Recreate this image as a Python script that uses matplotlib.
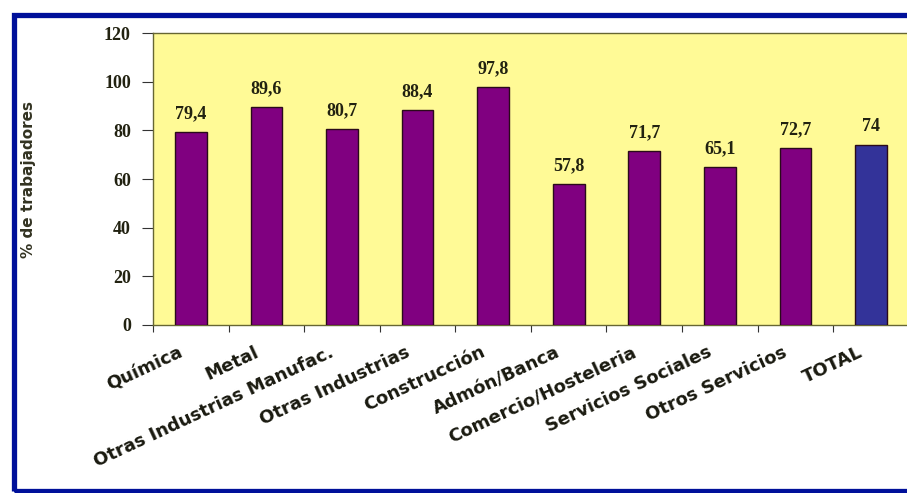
import matplotlib
matplotlib.use("Agg")
import matplotlib.pyplot as plt
from matplotlib.patches import Rectangle

categories = ["Química", "Metal", "Otras Industrias Manufac.", "Otras Industrias",
              "Construcción", "Admón/Banca", "Comercio/Hosteleria",
              "Servicios Sociales", "Otros Servicios", "TOTAL"]
values = [79.4, 89.6, 80.7, 88.4, 97.8, 57.8, 71.7, 65.1, 72.7, 74]
labels = ["79,4", "89,6", "80,7", "88,4", "97,8", "57,8", "71,7", "65,1", "72,7", "74"]
yticks = [0, 20, 40, 60, 80, 100, 120]

colors = ["#800080"] * (len(categories) - 1) + ["#333399"]

fig = plt.figure(figsize=(9.07, 4.93), dpi=100)
fig.patch.set_facecolor("white")
ax = fig.add_axes([0.1687, 0.3408, 0.8333, 0.5922])
ax.set_facecolor("#FFFA96")

x = list(range(len(categories)))
ax.bar(x, values, width=0.42, color=colors, edgecolor="#2a0a1a", linewidth=1.0, zorder=3)
for xi, v, lab in zip(x, values, labels):
    ax.text(xi, v + 4.0, lab, ha="center", va="bottom", fontsize=13,
            fontweight="bold", family="Liberation Serif", color="#222211")

ax.set_xlim(-0.5, len(categories) - 0.5)
ax.set_ylim(0, 120)
ax.set_yticks(yticks)
ax.set_yticklabels([str(t) for t in yticks], fontsize=13, fontweight="bold",
                   family="Liberation Serif", color="#222211")
ax.set_xticks([i + 0.5 for i in range(-1, len(categories))])
ax.set_xticklabels([])
ax.tick_params(axis="x", length=5, direction="out", color="#333333")
ax.tick_params(axis="y", length=8, direction="out", color="#333333", pad=8)
for s in ["top", "right", "left", "bottom"]:
    ax.spines[s].set_color("#666633")
    ax.spines[s].set_linewidth(1.0)

for xi, cat in zip(x, categories):
    ax.text(xi - 0.17, -7.5, cat, rotation=25, ha="right", va="top",
            rotation_mode="anchor", fontsize=13, fontweight="bold",
            family="DejaVu Sans", color="#1a1a10")

ax.set_ylabel("% de trabajadores", fontsize=11, fontweight="bold",
              family="DejaVu Sans", color="#333322")
ax.yaxis.set_label_coords(-0.155, 0.5)

border = Rectangle((13.5 / 907, 2.5 / 493), 1.0, 476 / 493, transform=fig.transFigure,
                   fill=False, edgecolor="#00109A", linewidth=3.8, zorder=10)
fig.patches.append(border)

fig.savefig("out.png", dpi=100)
